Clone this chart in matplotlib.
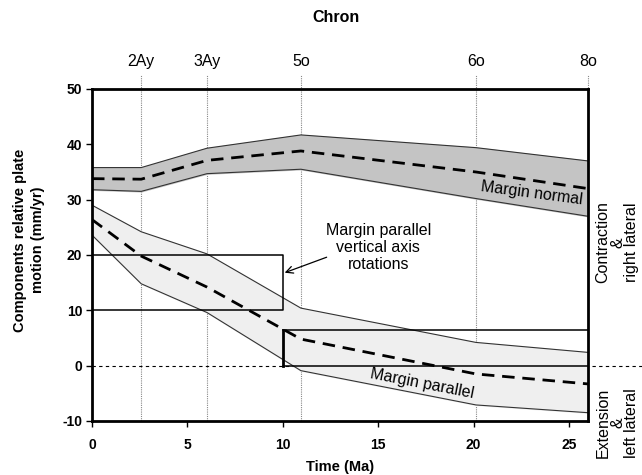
import matplotlib
matplotlib.use("Agg")
import matplotlib.pyplot as plt

plt.rcParams['font.family'] = ['Liberation Sans', 'DejaVu Sans']
plt.rcParams['axes.unicode_minus'] = False

# ---- data ----
chron_names = ['2Ay', '3Ay', '5o', '6o', '8o']
chron_ages = [2.58, 6.03, 10.95, 20.13, 26.0]

t = [0, 2.58, 6.03, 10.95, 20.13, 26.0]
normal_upper = [35.8, 35.8, 39.3, 41.7, 39.4, 37.0]
normal_mean = [33.8, 33.7, 37.1, 38.8, 35.0, 32.0]
normal_lower = [31.8, 31.5, 34.7, 35.5, 30.2, 27.0]
parallel_upper = [29.0, 24.2, 20.2, 10.4, 4.2, 2.4]
parallel_mean = [26.4, 19.8, 14.2, 4.8, -1.5, -3.3]
parallel_lower = [23.6, 14.8, 9.6, -0.9, -7.1, -8.5]

rot_box1_x = [0, 10]
rot_box1_y = [10, 20]
rot_box2_x = [10, 26]
rot_box2_y = [0, 6.4]

xticks = [0, 5, 10, 15, 20, 25]
yticks = [-10, 0, 10, 20, 30, 40, 50]

# ---- figure ----
fig = plt.figure(figsize=(6.42, 4.75), dpi=100)
ax = fig.add_axes([92/642, 1-421/475, (588-92)/642, (421-89)/475])
ax.set_xlim(0, 26)
ax.set_ylim(-10, 50)

# zero line (extends into right margin)
ax.plot([0, 29.5], [0, 0], ls=(0, (3, 3)), color='black', lw=0.8, clip_on=False, zorder=1)

# chron lines
for a in chron_ages:
    ax.plot([a, a], [-10, 52.5], ls=(0, (1, 1)), color='#888888', lw=0.8, clip_on=False, zorder=1)
for n, a in zip(chron_names, chron_ages):
    ax.text(a, 54.9, n, ha='center', va='center', fontsize=11.5, clip_on=False)

# bands
ax.fill_between(t, normal_lower, normal_upper, color='#c4c4c4', zorder=2)
ax.plot(t, normal_upper, color='#333333', lw=0.8, zorder=3)
ax.plot(t, normal_lower, color='#333333', lw=0.8, zorder=3)
ax.plot(t, normal_mean, color='black', lw=2, ls=(0, (4.5, 2.8)), zorder=4)

ax.fill_between(t, parallel_lower, parallel_upper, color='#efefef', zorder=2)
ax.plot(t, parallel_upper, color='#333333', lw=0.8, zorder=3)
ax.plot(t, parallel_lower, color='#333333', lw=0.8, zorder=3)
ax.plot(t, parallel_mean, color='black', lw=2, ls=(0, (4.5, 2.8)), zorder=4)

# rotation boxes
x0, x1 = rot_box1_x
y0, y1 = rot_box1_y
ax.plot([x0, x1, x1, x0], [y1, y1, y0, y0], color='black', lw=1.1, zorder=5)
x0, x1 = rot_box2_x
y0, y1 = rot_box2_y
ax.plot([x1, x0], [y1, y1], color='black', lw=1.1, zorder=5)
ax.plot([x0, x1], [y0, y0], color='black', lw=1.1, zorder=5)
ax.plot([x0, x0], [y0, y1], color='black', lw=2, zorder=5)

# texts
ax.text(23.05, 31.2, 'Margin normal', rotation=-7.5, ha='center', va='center', fontsize=11.5, zorder=6)
ax.text(17.3, -3.3, 'Margin parallel', rotation=-11, ha='center', va='center', fontsize=11.5, zorder=6)
ax.text(15.0, 21.4, 'Margin parallel\nvertical axis\nrotations', ha='center', va='center',
        fontsize=11.5, linespacing=1.15, zorder=6)
ax.annotate('', xy=(10.1, 16.8), xytext=(12.3, 19.6),
            arrowprops=dict(arrowstyle='->,head_length=0.5,head_width=0.25', color='black',
                            lw=0.9, shrinkA=0, shrinkB=0))

ax.text(27.55, 22.3, 'Contraction\n&\nright lateral', rotation=90, ha='center', va='center',
        fontsize=11.5, linespacing=0.95, clip_on=False)
ax.text(27.55, -10.3, 'Extension\n&\nleft lateral', rotation=90, ha='center', va='center',
        fontsize=11.5, linespacing=0.95, clip_on=False)

# axes styling
ax.set_xticks(xticks)
ax.set_yticks(yticks)
ax.tick_params(direction='out', length=4, width=1, labelsize=10, pad=3)
for lab in ax.get_xticklabels() + ax.get_yticklabels():
    lab.set_fontweight('bold')
ax.tick_params(axis='x', pad=8)
for s in ax.spines.values():
    s.set_linewidth(2)
    s.set_zorder(7)

ax.set_xlabel('Time (Ma)', fontsize=10.5, fontweight='bold', labelpad=6)
fig.text(29/642, 1-240/475, 'Components relative plate\nmotion (mm/yr)', rotation=90,
         ha='center', va='center', fontsize=10.5, fontweight='bold', linespacing=1.4)
fig.text(336/642, 1-17/475, 'Chron', ha='center', va='center', fontsize=11.5, fontweight='bold')

fig.savefig('out.png', dpi=100)
